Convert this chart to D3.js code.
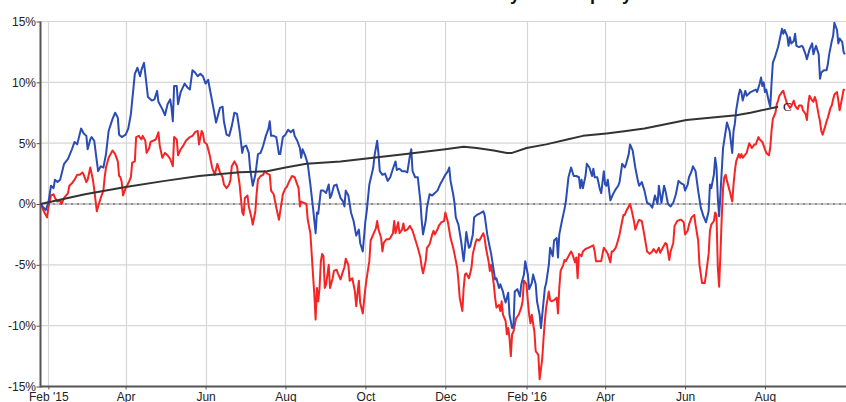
<!DOCTYPE html>
<html>
<head>
<meta charset="utf-8">
<script src="https://cdn.jsdelivr.net/npm/d3@7"></script>
<style>
  html, body { margin: 0; padding: 0; background: #fff; }
  svg { display: block; }
</style>
</head>
<body>
<div id="chart"></div>
<script>
// Cumulative return, daily, Feb 2015 - Sep 2016 (values in %)

const titleText = 'Cumulative Total Return: Industry vs Company'

const xTickDates = ['2015-02-01', '2015-04-01', '2015-06-01', '2015-08-01', '2015-10-01', '2015-12-01',
  '2016-02-01', '2016-04-01', '2016-06-01', '2016-08-01']
const xTickLabels = ["Feb '15", 'Apr', 'Jun', 'Aug', 'Oct', 'Dec', "Feb '16", 'Apr', 'Jun', 'Aug']
const yTicks = [-15, -10, -5, 0, 5, 10, 15]

// blue series
const seriesA = [
  ['2015-01-26', 0.0], ['2015-01-30', -0.5], ['2015-02-01', 0.1], ['2015-02-03', 1.5], ['2015-02-05', 1.3], ['2015-02-06', 2.0],
  ['2015-02-08', 1.8], ['2015-02-10', 2.0], ['2015-02-13', 3.3], ['2015-02-16', 3.7], ['2015-02-19', 4.5], ['2015-02-21', 5.1],
  ['2015-02-23', 4.9], ['2015-02-26', 6.2], ['2015-02-28', 5.8], ['2015-03-02', 5.6], ['2015-03-03', 4.5], ['2015-03-05', 5.3],
  ['2015-03-06', 5.5], ['2015-03-08', 5.2], ['2015-03-10', 3.5], ['2015-03-11', 2.7], ['2015-03-13', 3.1], ['2015-03-15', 3.0],
  ['2015-03-17', 4.1], ['2015-03-19', 6.0], ['2015-03-22', 7.0], ['2015-03-24', 7.5], ['2015-03-26', 7.1], ['2015-03-27', 5.7],
  ['2015-03-29', 5.5], ['2015-04-01', 5.7], ['2015-04-03', 6.2], ['2015-04-05', 7.4], ['2015-04-08', 10.7], ['2015-04-10', 11.2],
  ['2015-04-12', 10.5], ['2015-04-13', 11.0], ['2015-04-15', 11.6], ['2015-04-16', 10.7], ['2015-04-18', 8.8], ['2015-04-21', 8.5],
  ['2015-04-23', 8.6], ['2015-04-25', 9.3], ['2015-04-26', 8.4], ['2015-04-29', 7.8], ['2015-05-01', 7.3], ['2015-05-03', 8.2],
  ['2015-05-05', 8.6], ['2015-05-06', 7.9], ['2015-05-07', 6.8], ['2015-05-08', 9.7], ['2015-05-10', 9.7], ['2015-05-11', 8.2],
  ['2015-05-13', 9.2], ['2015-05-16', 9.9], ['2015-05-18', 9.6], ['2015-05-20', 9.4], ['2015-05-22', 11.0], ['2015-05-24', 10.8],
  ['2015-05-26', 10.5], ['2015-05-28', 10.7], ['2015-05-30', 10.5], ['2015-06-01', 9.9], ['2015-06-03', 10.2], ['2015-06-04', 9.6],
  ['2015-06-07', 7.9], ['2015-06-09', 6.7], ['2015-06-12', 7.9], ['2015-06-14', 8.0], ['2015-06-15', 6.8], ['2015-06-17', 5.7],
  ['2015-06-19', 5.6], ['2015-06-21', 6.4], ['2015-06-23', 7.5], ['2015-06-25', 7.4], ['2015-06-27', 6.0], ['2015-06-29', 4.2],
  ['2015-06-30', 4.7], ['2015-07-02', 4.8], ['2015-07-04', 4.2], ['2015-07-05', 2.9], ['2015-07-07', 1.5], ['2015-07-09', 2.4],
  ['2015-07-11', 4.1], ['2015-07-13', 4.2], ['2015-07-15', 4.8], ['2015-07-17', 5.6], ['2015-07-19', 6.2], ['2015-07-20', 6.8],
  ['2015-07-21', 5.6], ['2015-07-23', 5.6], ['2015-07-25', 5.5], ['2015-07-27', 4.1], ['2015-07-28', 4.1], ['2015-07-30', 5.5],
  ['2015-08-01', 5.7], ['2015-08-03', 6.1], ['2015-08-05', 5.9], ['2015-08-07', 6.1], ['2015-08-08', 5.6], ['2015-08-10', 5.2],
  ['2015-08-12', 4.6], ['2015-08-13', 3.8], ['2015-08-14', 4.5], ['2015-08-16', 4.0], ['2015-08-18', 3.3], ['2015-08-20', 1.6],
  ['2015-08-22', -0.3], ['2015-08-24', -2.4], ['2015-08-25', -0.7], ['2015-08-26', -0.8], ['2015-08-28', 1.1], ['2015-08-30', 1.1],
  ['2015-09-01', 0.9], ['2015-09-03', 1.6], ['2015-09-04', 0.5], ['2015-09-05', 0.7], ['2015-09-07', 1.5], ['2015-09-09', 1.6],
  ['2015-09-10', 1.2], ['2015-09-12', 0.5], ['2015-09-14', 0.2], ['2015-09-15', -0.2], ['2015-09-16', 1.1], ['2015-09-18', 0.7],
  ['2015-09-20', -0.7], ['2015-09-22', -1.4], ['2015-09-24', -2.6], ['2015-09-26', -2.1], ['2015-09-27', -3.2], ['2015-09-29', -3.9],
  ['2015-10-01', -1.4], ['2015-10-02', -0.6], ['2015-10-04', 1.6], ['2015-10-07', 3.0], ['2015-10-08', 4.0], ['2015-10-10', 5.2],
  ['2015-10-11', 4.1], ['2015-10-12', 2.7], ['2015-10-14', 2.4], ['2015-10-16', 2.5], ['2015-10-18', 1.9], ['2015-10-20', 2.2],
  ['2015-10-22', 2.9], ['2015-10-24', 3.5], ['2015-10-25', 2.8], ['2015-10-27', 2.9], ['2015-10-29', 2.7], ['2015-10-31', 2.7],
  ['2015-11-02', 2.6], ['2015-11-04', 4.0], ['2015-11-05', 4.5], ['2015-11-06', 2.7], ['2015-11-08', 2.2], ['2015-11-10', 2.2],
  ['2015-11-12', 0.2], ['2015-11-13', -1.4], ['2015-11-14', -2.5], ['2015-11-16', -1.4], ['2015-11-17', -0.3], ['2015-11-19', 0.8],
  ['2015-11-21', 0.7], ['2015-11-23', 0.9], ['2015-11-25', 1.1], ['2015-11-27', 1.6], ['2015-11-29', 2.0], ['2015-12-01', 2.4],
  ['2015-12-03', 2.7], ['2015-12-04', 3.0], ['2015-12-05', 1.9], ['2015-12-07', 0.8], ['2015-12-08', 0.1], ['2015-12-09', -1.1],
  ['2015-12-11', -1.7], ['2015-12-13', -3.0], ['2015-12-15', -4.7], ['2015-12-16', -3.6], ['2015-12-17', -2.3], ['2015-12-19', -3.6],
  ['2015-12-20', -3.5], ['2015-12-22', -2.5], ['2015-12-23', -1.1], ['2015-12-25', -0.9], ['2015-12-27', -0.8], ['2015-12-30', -0.6],
  ['2015-12-31', -0.9], ['2016-01-02', -2.5], ['2016-01-04', -3.6], ['2016-01-05', -4.1], ['2016-01-07', -5.5], ['2016-01-08', -6.2],
  ['2016-01-09', -6.1], ['2016-01-11', -6.9], ['2016-01-12', -6.6], ['2016-01-14', -7.2], ['2016-01-15', -7.7], ['2016-01-16', -8.1],
  ['2016-01-18', -7.3], ['2016-01-19', -9.1], ['2016-01-21', -10.2], ['2016-01-22', -10.1], ['2016-01-23', -7.2], ['2016-01-25', -7.0],
  ['2016-01-27', -7.6], ['2016-01-28', -6.6], ['2016-01-30', -5.8], ['2016-01-31', -4.7], ['2016-02-02', -5.8], ['2016-02-03', -7.0],
  ['2016-02-05', -6.5], ['2016-02-06', -5.8], ['2016-02-08', -6.6], ['2016-02-09', -8.0], ['2016-02-11', -9.1], ['2016-02-12', -10.2],
  ['2016-02-13', -9.1], ['2016-02-15', -6.9], ['2016-02-16', -6.5], ['2016-02-18', -5.0], ['2016-02-19', -3.6], ['2016-02-21', -4.3],
  ['2016-02-22', -3.0], ['2016-02-24', -2.8], ['2016-02-25', -4.4], ['2016-02-26', -2.5], ['2016-02-28', -1.4], ['2016-03-01', -0.4],
  ['2016-03-02', 0.2], ['2016-03-04', 2.2], ['2016-03-06', 3.0], ['2016-03-08', 2.3], ['2016-03-10', 2.3], ['2016-03-12', 2.2],
  ['2016-03-13', 1.3], ['2016-03-14', 2.0], ['2016-03-15', 1.3], ['2016-03-17', 2.3], ['2016-03-18', 3.3], ['2016-03-20', 3.0],
  ['2016-03-22', 2.3], ['2016-03-23', 2.9], ['2016-03-24', 2.2], ['2016-03-26', 2.2], ['2016-03-28', 1.2], ['2016-03-29', 0.9],
  ['2016-03-31', 2.7], ['2016-04-01', 1.6], ['2016-04-02', 1.5], ['2016-04-03', 2.0], ['2016-04-05', 0.3], ['2016-04-07', 0.8],
  ['2016-04-09', 1.2], ['2016-04-11', 1.5], ['2016-04-12', 1.8], ['2016-04-14', 3.3], ['2016-04-16', 3.0], ['2016-04-17', 3.3],
  ['2016-04-19', 4.1], ['2016-04-20', 4.9], ['2016-04-22', 4.4], ['2016-04-24', 3.0], ['2016-04-26', 1.9], ['2016-04-27', 1.5],
  ['2016-04-29', 1.8], ['2016-05-01', 1.1], ['2016-05-03', 0.1], ['2016-05-05', 0.0], ['2016-05-07', -0.3], ['2016-05-09', 0.7],
  ['2016-05-11', 0.0], ['2016-05-12', 1.5], ['2016-05-14', 0.1], ['2016-05-16', 1.5], ['2016-05-17', 1.1], ['2016-05-19', 0.0],
  ['2016-05-21', -0.2], ['2016-05-23', 0.1], ['2016-05-25', 0.8], ['2016-05-27', 1.9], ['2016-05-29', 1.7], ['2016-05-31', 1.6],
  ['2016-06-01', 1.1], ['2016-06-03', 1.6], ['2016-06-04', 2.2], ['2016-06-06', 2.7], ['2016-06-07', 3.1], ['2016-06-09', 2.7],
  ['2016-06-11', 1.1], ['2016-06-13', -0.3], ['2016-06-15', -1.0], ['2016-06-17', -1.5], ['2016-06-19', -0.6], ['2016-06-20', 1.6],
  ['2016-06-21', 1.3], ['2016-06-23', 2.4], ['2016-06-24', 3.8], ['2016-06-25', 3.0], ['2016-06-26', 0.5], ['2016-06-27', -1.0],
  ['2016-06-28', 0.8], ['2016-06-29', 2.7], ['2016-06-30', 4.6], ['2016-07-02', 6.0], ['2016-07-03', 6.7], ['2016-07-05', 6.0],
  ['2016-07-07', 4.2], ['2016-07-08', 6.0], ['2016-07-09', 6.6], ['2016-07-10', 7.7], ['2016-07-12', 9.0], ['2016-07-13', 9.4],
  ['2016-07-14', 9.2], ['2016-07-15', 8.5], ['2016-07-17', 9.3], ['2016-07-18', 8.9], ['2016-07-21', 9.2], ['2016-07-23', 9.3],
  ['2016-07-25', 9.4], ['2016-07-26', 9.2], ['2016-07-28', 9.9], ['2016-07-29', 10.4], ['2016-07-30', 9.7], ['2016-07-31', 10.0],
  ['2016-08-01', 9.2], ['2016-08-02', 9.4], ['2016-08-04', 8.4], ['2016-08-05', 8.0], ['2016-08-06', 9.9], ['2016-08-07', 11.6],
  ['2016-08-09', 12.2], ['2016-08-11', 12.9], ['2016-08-12', 13.4], ['2016-08-14', 14.4], ['2016-08-15', 14.0], ['2016-08-16', 14.3],
  ['2016-08-18', 13.8], ['2016-08-19', 13.0], ['2016-08-20', 13.7], ['2016-08-21', 13.2], ['2016-08-23', 13.4], ['2016-08-24', 14.0],
  ['2016-08-25', 13.0], ['2016-08-27', 12.9], ['2016-08-29', 13.0], ['2016-08-30', 12.9], ['2016-09-01', 12.3], ['2016-09-02', 11.9],
  ['2016-09-04', 12.7], ['2016-09-06', 13.2], ['2016-09-07', 12.3], ['2016-09-08', 12.7], ['2016-09-09', 13.0], ['2016-09-11', 12.3],
  ['2016-09-12', 10.3], ['2016-09-13', 10.8], ['2016-09-15', 11.0], ['2016-09-17', 11.0], ['2016-09-18', 11.5], ['2016-09-19', 12.3],
  ['2016-09-21', 13.4], ['2016-09-22', 13.8], ['2016-09-23', 14.9], ['2016-09-25', 14.3], ['2016-09-26', 13.2], ['2016-09-27', 13.6],
  ['2016-09-29', 13.3], ['2016-09-30', 12.5], ['2016-10-01', 12.3]
]

// red series
const seriesB = [
  ['2015-01-26', 0.0], ['2015-01-29', -0.7], ['2015-01-31', -1.1], ['2015-02-01', -0.3], ['2015-02-03', 0.7], ['2015-02-05', 0.8],
  ['2015-02-06', 0.5], ['2015-02-08', 0.2], ['2015-02-10', 0.3], ['2015-02-11', 0.0], ['2015-02-13', 0.5], ['2015-02-16', 0.9],
  ['2015-02-17', 1.5], ['2015-02-19', 1.7], ['2015-02-21', 2.0], ['2015-02-23', 2.4], ['2015-02-25', 2.4], ['2015-02-27', 2.6],
  ['2015-02-28', 2.4], ['2015-03-02', 1.8], ['2015-03-03', 2.0], ['2015-03-05', 3.0], ['2015-03-06', 2.5], ['2015-03-07', 2.0],
  ['2015-03-08', 1.2], ['2015-03-10', -0.6], ['2015-03-11', -0.2], ['2015-03-13', 0.5], ['2015-03-15', 1.1], ['2015-03-16', 2.2],
  ['2015-03-17', 3.0], ['2015-03-19', 3.8], ['2015-03-21', 4.2], ['2015-03-22', 4.4], ['2015-03-24', 4.1], ['2015-03-26', 3.5],
  ['2015-03-27', 2.3], ['2015-03-28', 2.2], ['2015-03-29', 1.8], ['2015-03-30', 0.7], ['2015-04-01', 1.3], ['2015-04-03', 1.7],
  ['2015-04-05', 2.2], ['2015-04-06', 3.4], ['2015-04-08', 3.5], ['2015-04-09', 5.5], ['2015-04-11', 5.6], ['2015-04-13', 5.3],
  ['2015-04-14', 5.6], ['2015-04-16', 5.2], ['2015-04-17', 4.2], ['2015-04-19', 4.6], ['2015-04-20', 5.1], ['2015-04-22', 5.2],
  ['2015-04-24', 5.3], ['2015-04-26', 5.9], ['2015-04-27', 4.8], ['2015-04-29', 3.8], ['2015-05-01', 4.2], ['2015-05-03', 4.0],
  ['2015-05-05', 3.7], ['2015-05-07', 3.1], ['2015-05-08', 5.5], ['2015-05-10', 5.3], ['2015-05-11', 4.0], ['2015-05-13', 4.5],
  ['2015-05-15', 4.8], ['2015-05-17', 5.2], ['2015-05-20', 5.5], ['2015-05-22', 5.6], ['2015-05-24', 5.9], ['2015-05-26', 6.0],
  ['2015-05-27', 4.9], ['2015-05-29', 6.0], ['2015-05-30', 5.8], ['2015-05-31', 5.1], ['2015-06-02', 4.9], ['2015-06-04', 4.1],
  ['2015-06-06', 3.0], ['2015-06-08', 2.4], ['2015-06-10', 3.3], ['2015-06-12', 2.6], ['2015-06-14', 2.2], ['2015-06-15', 1.6],
  ['2015-06-17', 1.3], ['2015-06-19', 1.6], ['2015-06-20', 2.0], ['2015-06-21', 3.1], ['2015-06-23', 3.5], ['2015-06-25', 3.1],
  ['2015-06-27', 1.6], ['2015-06-29', -0.7], ['2015-06-30', -0.9], ['2015-07-01', 0.5], ['2015-07-03', 0.7], ['2015-07-04', -0.2],
  ['2015-07-06', -1.1], ['2015-07-07', -1.7], ['2015-07-09', -0.6], ['2015-07-10', 0.9], ['2015-07-11', 2.0], ['2015-07-13', 2.3],
  ['2015-07-15', 2.4], ['2015-07-16', 2.7], ['2015-07-18', 2.5], ['2015-07-20', 2.4], ['2015-07-21', 1.1], ['2015-07-23', 0.8],
  ['2015-07-25', -0.3], ['2015-07-27', -1.3], ['2015-07-28', -0.6], ['2015-07-30', 0.8], ['2015-08-01', 1.3], ['2015-08-02', 1.4],
  ['2015-08-04', 1.9], ['2015-08-06', 2.3], ['2015-08-08', 2.2], ['2015-08-09', 1.9], ['2015-08-11', 1.3], ['2015-08-12', -0.2],
  ['2015-08-13', 0.2], ['2015-08-15', 0.1], ['2015-08-17', 0.0], ['2015-08-18', -1.3], ['2015-08-20', -2.4], ['2015-08-21', -4.1],
  ['2015-08-22', -5.8], ['2015-08-23', -7.4], ['2015-08-24', -9.5], ['2015-08-25', -6.9], ['2015-08-26', -8.0], ['2015-08-27', -6.9],
  ['2015-08-28', -4.7], ['2015-08-29', -4.1], ['2015-08-30', -4.3], ['2015-08-31', -6.9], ['2015-09-01', -6.6], ['2015-09-03', -5.0],
  ['2015-09-04', -6.9], ['2015-09-06', -6.1], ['2015-09-07', -5.5], ['2015-09-09', -5.4], ['2015-09-10', -5.7], ['2015-09-12', -6.2],
  ['2015-09-14', -5.5], ['2015-09-15', -5.2], ['2015-09-16', -4.5], ['2015-09-18', -5.0], ['2015-09-19', -6.3], ['2015-09-21', -6.1],
  ['2015-09-23', -7.2], ['2015-09-24', -8.4], ['2015-09-26', -6.3], ['2015-09-27', -8.1], ['2015-09-29', -9.0], ['2015-10-01', -6.9],
  ['2015-10-02', -6.1], ['2015-10-04', -4.7], ['2015-10-05', -3.0], ['2015-10-07', -2.5], ['2015-10-09', -2.0], ['2015-10-10', -1.4],
  ['2015-10-11', -2.1], ['2015-10-13', -2.8], ['2015-10-14', -3.9], ['2015-10-15', -3.2], ['2015-10-17', -2.9], ['2015-10-19', -2.9],
  ['2015-10-20', -2.8], ['2015-10-22', -2.4], ['2015-10-23', -1.4], ['2015-10-24', -2.4], ['2015-10-26', -1.5], ['2015-10-27', -2.4],
  ['2015-10-29', -2.1], ['2015-10-30', -1.6], ['2015-10-31', -2.2], ['2015-11-02', -2.1], ['2015-11-04', -1.8], ['2015-11-06', -2.2],
  ['2015-11-08', -2.9], ['2015-11-10', -3.6], ['2015-11-12', -4.4], ['2015-11-13', -5.2], ['2015-11-14', -5.7], ['2015-11-16', -4.7],
  ['2015-11-17', -3.6], ['2015-11-19', -3.3], ['2015-11-21', -2.5], ['2015-11-22', -2.2], ['2015-11-23', -2.5], ['2015-11-25', -2.1],
  ['2015-11-26', -1.8], ['2015-11-28', -1.5], ['2015-11-30', -1.4], ['2015-12-01', -0.7], ['2015-12-02', -1.1], ['2015-12-03', -1.5],
  ['2015-12-05', -2.8], ['2015-12-07', -3.6], ['2015-12-08', -4.1], ['2015-12-10', -5.2], ['2015-12-11', -6.3], ['2015-12-12', -7.7],
  ['2015-12-14', -8.8], ['2015-12-15', -6.9], ['2015-12-16', -5.8], ['2015-12-17', -5.7], ['2015-12-19', -6.1], ['2015-12-20', -5.7],
  ['2015-12-21', -5.2], ['2015-12-22', -4.1], ['2015-12-24', -3.2], ['2015-12-25', -2.9], ['2015-12-27', -3.0], ['2015-12-28', -2.8],
  ['2015-12-30', -2.4], ['2015-12-31', -2.8], ['2016-01-01', -3.6], ['2016-01-03', -4.7], ['2016-01-04', -5.5], ['2016-01-05', -5.0],
  ['2016-01-07', -6.6], ['2016-01-08', -7.7], ['2016-01-09', -8.5], ['2016-01-11', -8.3], ['2016-01-12', -8.8], ['2016-01-13', -8.0],
  ['2016-01-14', -9.1], ['2016-01-16', -9.6], ['2016-01-17', -10.7], ['2016-01-18', -10.2], ['2016-01-19', -11.0], ['2016-01-20', -12.5],
  ['2016-01-21', -10.7], ['2016-01-22', -10.5], ['2016-01-24', -9.4], ['2016-01-26', -9.1], ['2016-01-28', -8.5], ['2016-01-29', -8.0],
  ['2016-01-30', -6.3], ['2016-02-01', -6.6], ['2016-02-02', -8.0], ['2016-02-03', -9.1], ['2016-02-04', -9.8], ['2016-02-05', -9.1],
  ['2016-02-07', -10.5], ['2016-02-08', -12.1], ['2016-02-10', -12.4], ['2016-02-11', -14.4], ['2016-02-13', -12.7], ['2016-02-14', -11.0],
  ['2016-02-15', -9.6], ['2016-02-16', -8.5], ['2016-02-18', -7.2], ['2016-02-19', -7.9], ['2016-02-20', -8.0], ['2016-02-22', -7.9],
  ['2016-02-24', -7.7], ['2016-02-25', -9.0], ['2016-02-26', -6.9], ['2016-02-27', -5.5], ['2016-02-29', -5.0], ['2016-03-01', -4.6],
  ['2016-03-02', -4.7], ['2016-03-04', -4.3], ['2016-03-06', -3.9], ['2016-03-07', -4.1], ['2016-03-09', -4.8], ['2016-03-10', -4.4],
  ['2016-03-11', -6.1], ['2016-03-12', -4.1], ['2016-03-14', -4.3], ['2016-03-15', -3.9], ['2016-03-17', -3.7], ['2016-03-19', -3.6],
  ['2016-03-21', -3.5], ['2016-03-23', -3.4], ['2016-03-24', -3.9], ['2016-03-25', -4.7], ['2016-03-27', -4.7], ['2016-03-29', -4.7],
  ['2016-03-30', -4.1], ['2016-03-31', -3.6], ['2016-04-02', -3.9], ['2016-04-03', -4.1], ['2016-04-05', -4.8], ['2016-04-06', -3.9],
  ['2016-04-07', -3.9], ['2016-04-09', -3.6], ['2016-04-10', -3.3], ['2016-04-12', -2.5], ['2016-04-14', -1.4], ['2016-04-15', -0.9],
  ['2016-04-16', -0.9], ['2016-04-17', -0.6], ['2016-04-20', 0.0], ['2016-04-21', -0.4], ['2016-04-23', -1.4], ['2016-04-24', -2.1],
  ['2016-04-26', -1.5], ['2016-04-27', -1.3], ['2016-04-29', -1.4], ['2016-05-01', -2.6], ['2016-05-03', -3.9], ['2016-05-05', -4.1],
  ['2016-05-07', -3.9], ['2016-05-08', -3.7], ['2016-05-10', -4.0], ['2016-05-12', -3.6], ['2016-05-13', -4.0], ['2016-05-15', -3.6],
  ['2016-05-17', -3.2], ['2016-05-18', -3.3], ['2016-05-20', -4.6], ['2016-05-21', -3.9], ['2016-05-23', -3.2], ['2016-05-24', -1.8],
  ['2016-05-26', -1.4], ['2016-05-28', -1.3], ['2016-05-29', -1.3], ['2016-05-31', -1.5], ['2016-06-01', -2.5], ['2016-06-03', -2.2],
  ['2016-06-04', -1.7], ['2016-06-06', -1.1], ['2016-06-08', -0.9], ['2016-06-09', -1.7], ['2016-06-11', -3.0], ['2016-06-12', -5.0],
  ['2016-06-14', -6.5], ['2016-06-16', -6.5], ['2016-06-17', -5.8], ['2016-06-19', -4.1], ['2016-06-20', -2.2], ['2016-06-21', -1.7],
  ['2016-06-23', -1.4], ['2016-06-24', -0.7], ['2016-06-25', -0.9], ['2016-06-26', -5.2], ['2016-06-27', -6.8], ['2016-06-28', -4.1],
  ['2016-06-29', -1.1], ['2016-06-30', 1.3], ['2016-07-01', 2.2], ['2016-07-02', 2.4], ['2016-07-03', 1.9], ['2016-07-05', 1.1],
  ['2016-07-07', 0.2], ['2016-07-08', 1.6], ['2016-07-09', 2.7], ['2016-07-10', 3.5], ['2016-07-12', 4.1], ['2016-07-13', 3.8],
  ['2016-07-14', 4.1], ['2016-07-15', 3.8], ['2016-07-18', 4.2], ['2016-07-19', 4.6], ['2016-07-20', 5.0], ['2016-07-22', 4.6],
  ['2016-07-24', 4.9], ['2016-07-25', 4.9], ['2016-07-27', 5.5], ['2016-07-28', 5.3], ['2016-07-30', 5.1], ['2016-07-31', 4.8],
  ['2016-08-02', 4.2], ['2016-08-04', 4.0], ['2016-08-05', 4.6], ['2016-08-06', 6.0], ['2016-08-07', 7.0], ['2016-08-09', 7.5],
  ['2016-08-10', 8.2], ['2016-08-11', 8.5], ['2016-08-12', 8.9], ['2016-08-14', 9.2], ['2016-08-15', 9.3], ['2016-08-16', 8.9],
  ['2016-08-18', 8.2], ['2016-08-19', 8.1], ['2016-08-20', 7.9], ['2016-08-21', 8.0], ['2016-08-23', 8.5], ['2016-08-24', 8.1],
  ['2016-08-25', 7.9], ['2016-08-26', 7.8], ['2016-08-27', 8.1], ['2016-08-29', 8.1], ['2016-08-30', 7.7], ['2016-09-01', 7.4],
  ['2016-09-02', 6.9], ['2016-09-03', 8.2], ['2016-09-04', 8.9], ['2016-09-06', 8.5], ['2016-09-07', 8.4], ['2016-09-08', 8.8],
  ['2016-09-09', 8.5], ['2016-09-11', 7.3], ['2016-09-12', 6.8], ['2016-09-13', 6.0], ['2016-09-14', 5.7], ['2016-09-16', 6.4],
  ['2016-09-17', 6.8], ['2016-09-18', 7.1], ['2016-09-20', 7.9], ['2016-09-21', 8.1], ['2016-09-22', 8.6], ['2016-09-23', 9.0],
  ['2016-09-25', 9.2], ['2016-09-26', 8.5], ['2016-09-27', 7.7], ['2016-09-29', 8.8], ['2016-09-30', 9.4], ['2016-10-01', 9.4]
]

// black series, labelled "C"
const seriesC = [
  ['2015-01-26', 0.0], ['2015-03-01', 0.8], ['2015-04-01', 1.4], ['2015-05-01', 1.9], ['2015-05-27', 2.3], ['2015-06-27', 2.6],
  ['2015-07-18', 2.7], ['2015-08-01', 3.0], ['2015-08-17', 3.3], ['2015-09-12', 3.5], ['2015-10-07', 3.8], ['2015-11-01', 4.1],
  ['2015-12-01', 4.5], ['2015-12-15', 4.7], ['2015-12-25', 4.6], ['2016-01-07', 4.4], ['2016-01-17', 4.2], ['2016-01-21', 4.2],
  ['2016-02-01', 4.6], ['2016-02-16', 4.9], ['2016-03-03', 5.3], ['2016-03-15', 5.6], ['2016-04-02', 5.8], ['2016-04-17', 6.0],
  ['2016-05-01', 6.2], ['2016-06-02', 6.9], ['2016-07-10', 7.3], ['2016-07-21', 7.5], ['2016-08-11', 8.0]
]
const seriesCLabel = 'C'

const width = 846
const height = 402
const margin = {left: 40.5, right: 0, top: 21.5, bottom: 15.5}
const font = 'Arial, "Liberation Sans", sans-serif'

const parseDate = d3.utcParse('%Y-%m-%d')
const toPoints = arr => arr.map(d => ({date: parseDate(d[0]), value: d[1]}))

const svg = d3.select('#chart')
  .append('svg')
  .attr('width', width)
  .attr('height', height)
  .style('font-family', font)

const xScale = d3.scaleUtc()
  .domain([parseDate('2015-01-26'), parseDate('2016-10-02')])
  .range([margin.left, 846.2])
const yScale = d3.scaleLinear()
  .domain([-15, 15])
  .range([height - margin.bottom, margin.top])

// Title (sits mostly above the visible area, as in the source image)
svg.append('text')
  .attr('x', 632)
  .attr('y', 0)
  .attr('text-anchor', 'end')
  .style('font-size', '18px')
  .style('font-weight', 'bold')
  .style('fill', '#111')
  .text(titleText)

// Gridlines
const xTicks = xTickDates.map(parseDate)
svg.append('g')
  .selectAll('line')
  .data(xTicks)
  .join('line')
  .attr('x1', d => Math.round(xScale(d)) + 0.5)
  .attr('x2', d => Math.round(xScale(d)) + 0.5)
  .attr('y1', yScale(15))
  .attr('y2', yScale(-15))
  .style('stroke', '#d6d6d6')
  .style('stroke-width', 1.2)

svg.append('g')
  .selectAll('line')
  .data(yTicks.filter(d => d !== 0 && d !== -15))
  .join('line')
  .attr('x1', margin.left)
  .attr('x2', width)
  .attr('y1', d => yScale(d))
  .attr('y2', d => yScale(d))
  .style('stroke', '#d6d6d6')
  .style('stroke-width', 1.2)

// Zero line
svg.append('line')
  .attr('x1', margin.left)
  .attr('x2', width)
  .attr('y1', yScale(0))
  .attr('y2', yScale(0))
  .style('stroke', '#222')
  .style('stroke-width', 1)
  .style('stroke-dasharray', '3,1,1,1')

// Axes
const lAxis = svg.append('g')
  .attr('transform', `translate(${margin.left},0)`)
  .call(d3.axisLeft(yScale)
    .tickValues(yTicks)
    .tickFormat(d => `${d}%`)
    .tickSize(4)
    .tickSizeOuter(0)
    .tickPadding(0.5))

const bAxis = svg.append('g')
  .attr('transform', `translate(0,${yScale(-15)})`)
  .call(d3.axisBottom(xScale)
    .tickValues(xTicks)
    .tickFormat((d, i) => xTickLabels[i])
    .tickSize(3)
    .tickSizeOuter(0)
    .tickPadding(3))

;[lAxis, bAxis].forEach(ax => {
  ax.select('.domain').style('stroke', '#555').style('stroke-width', 2)
  ax.selectAll('.tick line').style('stroke', '#555')
  ax.selectAll('text')
    .style('font-family', font)
    .style('font-size', '12px')
    .style('fill', '#222')
})
bAxis.select('.domain').attr('d', `M${margin.left},0H${width}`)
lAxis.select('.domain').attr('d', `M0,${yScale(15)}V${yScale(-15) + 1}`)

// Lines
const line = d3.line()
  .x(d => xScale(d.date))
  .y(d => yScale(d.value))

const series = [
  {name: 'B', data: toPoints(seriesB), colour: '#f52525'},
  {name: 'A', data: toPoints(seriesA), colour: '#2a4cb4'},
  {name: 'C', data: toPoints(seriesC), colour: '#333333'}
]

svg.append('g')
  .selectAll('path')
  .data(series)
  .join('path')
  .attr('d', d => line(d.data))
  .style('fill', 'none')
  .style('stroke', d => d.colour)
  .style('stroke-width', 2)
  .style('stroke-linejoin', 'round')

// End label for the black line
const cLast = toPoints(seriesC).slice(-1)[0]
svg.append('text')
  .attr('x', xScale(cLast.date) + 5)
  .attr('y', yScale(cLast.value))
  .attr('dy', '0.35em')
  .style('font-family', '"Liberation Serif", "DejaVu Serif", serif')
  .style('font-size', '13px')
  .style('fill', '#111')
  .text(seriesCLabel)
</script>
</body>
</html>
